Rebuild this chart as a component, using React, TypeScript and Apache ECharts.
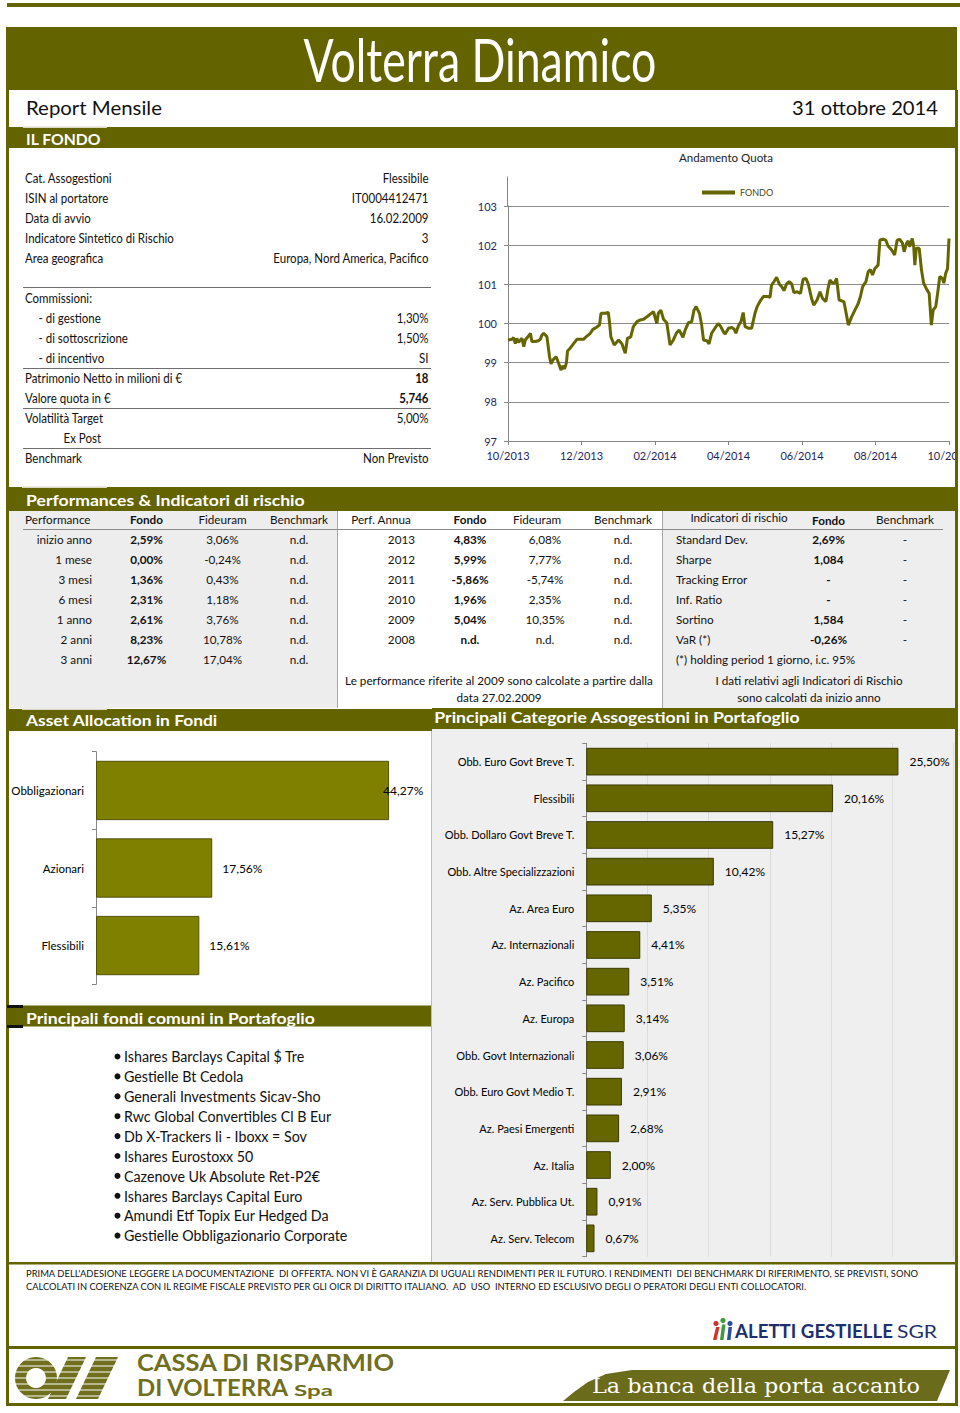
import React, { useEffect, useRef } from "react";
import * as echarts from "echarts";

// ---------------- DATA ----------------
const infoLabels = ["Cat. Assogestioni", "ISIN al portatore", "Data di avvio", "Indicatore Sintetico di Rischio", "Area geografica"];
const infoValues = ["Flessibile", "IT0004412471", "16.02.2009", "3", "Europa, Nord America, Pacifico"];
const feeLabels = ["Commissioni:", "- di gestione", "- di sottoscrizione", "- di incentivo"];
const feeValues = ["", "1,30%", "1,50%", "SI"];
const navLabels = ["Patrimonio Netto in milioni di €", "Valore quota in €"];
const navValues = ["18", "5,746"];
const volLabels = ["Volatilità Target", "Ex Post"];
const volValues = ["5,00%", ""];
const benchLabel = "Benchmark";
const benchValue = "Non Previsto";

const perfHeaders = ["Performance", "Fondo", "Fideuram", "Benchmark"];
const perfPeriods = ["inizio anno", "1 mese", "3 mesi", "6 mesi", "1 anno", "2 anni", "3 anni"];
const perfFondo = ["2,59%", "0,00%", "1,36%", "2,31%", "2,61%", "8,23%", "12,67%"];
const perfFideuram = ["3,06%", "-0,24%", "0,43%", "1,18%", "3,76%", "10,78%", "17,04%"];
const perfBenchmark = ["n.d.", "n.d.", "n.d.", "n.d.", "n.d.", "n.d.", "n.d."];

const annualHeaders = ["Perf. Annua", "Fondo", "Fideuram", "Benchmark"];
const annualYears = ["2013", "2012", "2011", "2010", "2009", "2008"];
const annualFondo = ["4,83%", "5,99%", "-5,86%", "1,96%", "5,04%", "n.d."];
const annualFideuram = ["6,08%", "7,77%", "-5,74%", "2,35%", "10,35%", "n.d."];
const annualBenchmark = ["n.d.", "n.d.", "n.d.", "n.d.", "n.d.", "n.d."];

const riskHeaders = ["Indicatori di rischio", "Fondo", "Benchmark"];
const riskLabels = ["Standard Dev.", "Sharpe", "Tracking Error", "Inf. Ratio", "Sortino", "VaR (*)"];
const riskFondo = ["2,69%", "1,084", "-", "-", "1,584", "-0,26%"];
const riskBenchmark = ["-", "-", "-", "-", "-", "-"];

const quotaTickLabels = ["10/2013", "12/2013", "02/2014", "04/2014", "06/2014", "08/2014", "10/2014"];
// months elapsed since 10/2013
const quotaMonths = [
  0, 0.11, 0.15, 0.2, 0.24, 0.29, 0.34, 0.38, 0.43, 0.47,
  0.56, 0.61, 0.65, 0.74, 0.83, 0.88, 0.92, 0.97, 1.06, 1.13,
  1.17, 1.24, 1.31, 1.38, 1.44, 1.49, 1.54, 1.59, 1.62, 1.69,
  1.78, 1.88, 2.06, 2.15, 2.24, 2.31, 2.4, 2.49, 2.53, 2.64,
  2.73, 2.76, 2.8, 2.89, 3.01, 3.1, 3.19, 3.25, 3.34, 3.41,
  3.51, 3.6, 3.69, 3.78, 3.87, 3.96, 4.05, 4.09, 4.16, 4.23,
  4.32, 4.41, 4.5, 4.59, 4.66, 4.76, 4.82, 4.91, 5.0, 5.06,
  5.12, 5.21, 5.27, 5.32, 5.41, 5.47, 5.54, 5.63, 5.72, 5.79,
  5.86, 5.91, 6.0, 6.09, 6.16, 6.2, 6.27, 6.34, 6.4, 6.45,
  6.54, 6.63, 6.72, 6.78, 6.86, 6.95, 7.07, 7.13, 7.17, 7.24,
  7.31, 7.38, 7.45, 7.51, 7.58, 7.65, 7.72, 7.78, 7.87, 7.96,
  8.03, 8.11, 8.17, 8.26, 8.32, 8.41, 8.49, 8.56, 8.65, 8.71,
  8.76, 8.83, 8.89, 8.94, 9.01, 9.14, 9.21, 9.26, 9.35, 9.44,
  9.53, 9.59, 9.65, 9.74, 9.8, 9.86, 9.92, 9.98, 10.07, 10.12,
  10.21, 10.28, 10.34, 10.43, 10.52, 10.59, 10.66, 10.73, 10.78, 10.84,
  10.89, 10.93, 11.0, 11.04, 11.07, 11.11, 11.19, 11.25, 11.31, 11.4,
  11.46, 11.52, 11.57, 11.64, 11.69, 11.75, 11.82, 11.86, 11.91, 11.96,
  12.0,
];
const quotaValues = [
  99.58, 99.6, 99.64, 99.49, 99.62, 99.52, 99.58, 99.62, 99.41, 99.58,
  99.68, 99.75, 99.54, 99.54, 99.56, 99.6, 99.7, 99.75, 99.66, 99.15,
  98.97, 99.09, 99.15, 98.98, 98.81, 98.92, 98.84, 99.0, 99.3, 99.37,
  99.48, 99.6, 99.6, 99.68, 99.75, 99.85, 99.9, 99.96, 100.26, 100.26,
  100.28, 100.05, 99.66, 99.45, 99.58, 99.48, 99.24, 99.62, 99.66, 99.92,
  100.05, 100.09, 100.11, 100.17, 100.24, 100.3, 100.0, 100.26, 100.34, 100.11,
  100.02, 99.45, 99.58, 99.77, 99.83, 99.65, 99.83, 100.02, 100.05, 100.34,
  100.43, 100.26, 99.96, 99.58, 99.56, 99.48, 99.75, 99.88, 100.0, 99.92,
  99.79, 99.73, 99.88, 99.9, 99.85, 99.75, 99.94, 100.05, 100.28, 99.92,
  99.88, 99.88, 100.26, 100.43, 100.57, 100.69, 100.69, 100.67, 100.98, 101.07,
  101.18, 101.01, 100.94, 100.84, 101.01, 101.07, 101.01, 100.79, 100.81, 100.77,
  101.13, 101.15, 101.01, 100.64, 100.47, 100.6, 100.81, 100.64, 100.56, 100.9,
  101.11, 101.03, 101.04, 101.15, 100.6, 100.56, 100.22, 99.96, 100.17, 100.34,
  100.51, 100.69, 100.94, 101.07, 101.32, 101.38, 101.24, 101.4, 101.49, 102.13,
  102.15, 102.13, 101.98, 101.89, 101.75, 102.13, 102.15, 102.06, 101.83, 102.04,
  102.11, 101.96, 102.17, 101.96, 101.49, 101.92, 101.92, 101.37, 101.03, 100.86,
  100.77, 99.96, 100.34, 100.43, 100.77, 101.2, 101.15, 101.03, 101.28, 101.4,
  102.17,
];

const assetCategories = ["Obbligazionari", "Azionari", "Flessibili"];
const assetValues = [44.27, 17.56, 15.61];

const sectorCategories = [
  "Obb. Euro Govt Breve T.", "Flessibili", "Obb. Dollaro Govt Breve T.", "Obb. Altre Specializzazioni",
  "Az. Area Euro", "Az. Internazionali", "Az. Pacifico", "Az. Europa", "Obb. Govt Internazionali",
  "Obb. Euro Govt Medio T.", "Az. Paesi Emergenti", "Az. Italia", "Az. Serv. Pubblica Ut.", "Az. Serv. Telecom",
];
const sectorValues = [25.5, 20.16, 15.27, 10.42, 5.35, 4.41, 3.51, 3.14, 3.06, 2.91, 2.68, 2.0, 0.91, 0.67];

const funds = [
  "Ishares Barclays Capital $ Tre", "Gestielle Bt Cedola", "Generali Investments Sicav-Sho",
  "Rwc Global Convertibles Cl B Eur", "Db X-Trackers Ii - Iboxx = Sov", "Ishares Eurostoxx 50",
  "Cazenove Uk Absolute Ret-P2€", "Ishares Barclays Capital Euro", "Amundi Etf Topix Eur Hedged Da",
  "Gestielle Obbligazionario Corporate",
];

const disclaimer = [
  "PRIMA DELL'ADESIONE LEGGERE LA DOCUMENTAZIONE  DI OFFERTA. NON VI È GARANZIA DI UGUALI RENDIMENTI PER IL FUTURO. I RENDIMENTI  DEI BENCHMARK DI RIFERIMENTO, SE PREVISTI, SONO",
  "CALCOLATI IN COERENZA CON IL REGIME FISCALE PREVISTO PER GLI OICR DI DIRITTO ITALIANO.  AD  USO  INTERNO ED ESCLUSIVO DEGLI O PERATORI DEGLI ENTI COLLOCATORI.",
];

// ---------------- STYLE ----------------
const OLIVE = "#636300";
const FAM = "Lato";
const pct = (v: number) => v.toFixed(2).replace(".", ",") + "%";

let mctx: CanvasRenderingContext2D | null = null;
function measure(text: string, font: string) {
  if (!mctx) mctx = document.createElement("canvas").getContext("2d");
  mctx!.font = font;
  return mctx!.measureText(text).width || 1;
}

type TO = { size?: number; weight?: string; fam?: string; align?: string; color?: string; w?: number; sx?: number; z?: number };
function T(text: string, x: number, y: number, o: TO = {}) {
  const size = o.size ?? 12;
  const fam = o.fam ?? FAM;
  const font = `${o.weight ?? "normal"} ${size}px ${fam}`;
  const sx = o.w ? o.w / measure(text, font) : o.sx ?? 1;
  const align = o.align ?? "left";
  return {
    type: "text", x, y, scaleX: sx, z: o.z ?? 10, silent: true,
    style: { text, font, fill: o.color ?? "#111", align, textAlign: align, verticalAlign: "middle", textVerticalAlign: "middle" },
  };
}
const R = (x: number, y: number, w: number, h: number, fill: string, z = 5) => ({ type: "rect", z, silent: true, shape: { x, y, width: w, height: h }, style: { fill } });
const L = (x1: number, y1: number, x2: number, y2: number, stroke: string, lw = 1, z = 6) => ({ type: "line", z, silent: true, shape: { x1, y1, x2, y2 }, style: { stroke, lineWidth: lw } });

function buildOption() {
  const els: any[] = [];
  // frame
  els.push(R(7, 3, 953, 4, OLIVE, 20));
  els.push(R(6, 27, 951, 63, OLIVE, 20));
  els.push(R(6, 127, 952, 21, OLIVE, 20));
  els.push(R(23, 126.5, 84, 1.5, "#d9d9c4", 21));
  els.push(R(6, 90, 3, 1316, OLIVE, 20));
  els.push(R(955, 90, 3, 1316, OLIVE, 20));
  els.push(R(958, 130, 12, 360, "#ffffff", 19));

  els.push(T("Volterra Dinamico", 480, 58.5, { size: 60, color: "#fff", align: "center", w: 353, z: 22 }));
  els.push(T("Report Mensile", 26, 107.5, { size: 19, w: 136 }));
  els.push(T("31 ottobre 2014", 938, 107.5, { size: 19, w: 146, align: "right" }));
  els.push(T("IL FONDO", 26, 138, { size: 16, weight: "bold", color: "#fff", w: 75, z: 22 }));

  // info panel
  const sxL = 149 / measure("Indicatore Sintetico di Rischio", `normal 12.5px ${FAM}`);
  const lp = (label: string, value: string, y: number, indent = 25, bold = false) => {
    els.push(T(label, indent, y, { size: 12.5, sx: sxL }));
    if (value) els.push(T(value, 428.5, y, { size: 12.5, sx: sxL, align: "right", weight: bold ? "bold" : "normal" }));
  };
  infoLabels.forEach((l, i) => lp(l, infoValues[i], 178 + 20 * i));
  els.push(L(23, 287.5, 431, 287.5, "#6e6e6e"));
  feeLabels.forEach((l, i) => lp(l, feeValues[i], 298 + 20 * i, i === 0 ? 25 : 38.5));
  els.push(L(23, 368.5, 431, 368.5, "#6e6e6e"));
  navLabels.forEach((l, i) => lp(l, navValues[i], 378.5 + 20 * i, 25, true));
  els.push(L(23, 408.5, 431, 408.5, "#6e6e6e"));
  volLabels.forEach((l, i) => lp(l, volValues[i], 418.5 + 20 * i, i === 0 ? 25 : 63.5));
  els.push(L(23, 448.5, 431, 448.5, "#6e6e6e"));
  lp(benchLabel, benchValue, 458.5);

  // line chart title + axis extension
  els.push(T("Andamento Quota", 726, 158, { size: 11.5, color: "#222", w: 94, align: "center" }));
  els.push(L(507.5, 176.5, 507.5, 206, "#868686", 1, 6));

  // performance section
  els.push(R(6, 487, 952, 24, OLIVE, 20));
  els.push(R(22, 486.5, 85, 1.5, "#d9d9c4", 21));
  els.push(T("Performances & Indicatori di rischio", 26, 499.5, { size: 16, weight: "bold", color: "#fff", w: 279, z: 22 }));
  els.push(R(9, 511, 328, 197, "#ededed", -10));
  els.push(R(662, 511, 293, 197, "#eeeeee", -10));
  els.push(L(337.5, 511, 337.5, 708, "#a8a8a8"));
  els.push(L(662.5, 511, 662.5, 708, "#a8a8a8"));
  els.push(L(23, 529.5, 943, 529.5, "#8a8a8a"));
  const sxP = 308 / measure("Le performance riferite al 2009 sono calcolate a partire dalla", `normal 12px ${FAM}`);
  const pt = (s: string, x: number, y: number, align = "center", bold = false) =>
    els.push(T(s, x, y, { size: 12, sx: sxP, align, weight: bold ? "bold" : "normal" }));
  pt(perfHeaders[0], 25, 519.5, "left");
  pt(perfHeaders[1], 146.5, 519.5, "center", true);
  pt(perfHeaders[2], 222.5, 519.5);
  pt(perfHeaders[3], 299, 519.5);
  perfPeriods.forEach((p, i) => {
    const y = 539.5 + 20 * i;
    pt(p, 92, y, "right");
    pt(perfFondo[i], 146.5, y, "center", true);
    pt(perfFideuram[i], 222.5, y);
    pt(perfBenchmark[i], 299, y);
  });
  pt(annualHeaders[0], 381, 519.5);
  pt(annualHeaders[1], 470, 519.5, "center", true);
  pt(annualHeaders[2], 537, 519.5);
  pt(annualHeaders[3], 623, 519.5);
  annualYears.forEach((yv, i) => {
    const y = 539.5 + 20 * i;
    pt(yv, 415, y, "right");
    pt(annualFondo[i], 470, y, "center", true);
    pt(annualFideuram[i], 545, y);
    pt(annualBenchmark[i], 623, y);
  });
  pt(riskHeaders[0], 739, 517.5);
  pt(riskHeaders[1], 828.5, 520, "center", true);
  pt(riskHeaders[2], 905, 519.5);
  riskLabels.forEach((r, i) => {
    const y = 539.5 + 20 * i;
    pt(r, 676, y, "left");
    pt(riskFondo[i], 828.5, y, "center", true);
    pt(riskBenchmark[i], 905, y);
  });
  pt("(*) holding period 1 giorno, i.c. 95%", 676, 659.5, "left");
  pt("Le performance riferite al 2009 sono calcolate a partire dalla", 499, 680.5);
  pt("data 27.02.2009", 499, 697.5);
  pt("I dati relativi agli Indicatori di Rischio", 809, 680.5);
  pt("sono calcolati da inizio anno", 809, 697.5);

  // allocation headers
  els.push(R(6, 709, 426, 22, OLIVE, 20));
  els.push(R(22, 708.5, 85, 1.5, "#d9d9c4", 21));
  els.push(R(432, 708, 526, 21, OLIVE, 20));
  els.push(T("Asset Allocation in Fondi", 26, 720, { size: 16, weight: "bold", color: "#fff", w: 192, z: 22 }));
  els.push(T("Principali Categorie Assogestioni in Portafoglio", 617, 716.5, { size: 16, weight: "bold", color: "#fff", w: 366, align: "center", z: 22 }));
  els.push(R(432, 729, 523, 533, "#efefef", -10));
  els.push(L(431.5, 731, 431.5, 1262, "#bdbdbd"));

  // funds list
  els.push(R(7, 1005.5, 424, 21, OLIVE, 20));
  els.push(R(7, 1005, 16, 3, "#111", 21));
  els.push(R(7, 1025, 16, 3, "#111", 21));
  els.push(T("Principali fondi comuni in Portafoglio", 26, 1017.5, { size: 16, weight: "bold", color: "#fff", w: 289, z: 22 }));
  const sxF = 181 / measure(funds[0], `normal 15.5px ${FAM}`);
  funds.forEach((f, i) => {
    const y = 1056 + 19.9 * i;
    els.push({ type: "circle", z: 10, silent: true, shape: { cx: 117.5, cy: y + 0.5, r: 3 }, style: { fill: "#111" } });
    els.push(T(f, 124, y, { size: 15.5, sx: sxF }));
  });

  // footer
  els.push(R(6, 1262, 952, 2.5, OLIVE, 20));
  els.push(T(disclaimer[0], 26, 1273, { size: 9.5, w: 895 }));
  els.push(T(disclaimer[1], 26, 1286, { size: 9.5, w: 782 }));
  // Aletti logo
  els.push({ type: "circle", z: 10, silent: true, shape: { cx: 716, cy: 1323.5, r: 2.6 }, style: { fill: "#d2322d" } });
  els.push({ type: "circle", z: 10, silent: true, shape: { cx: 723, cy: 1320.5, r: 2.6 }, style: { fill: "#3d9b3a" } });
  els.push({ type: "circle", z: 10, silent: true, shape: { cx: 730, cy: 1323.5, r: 2.6 }, style: { fill: "#2b4f9e" } });
  els.push({ type: "polygon", z: 10, silent: true, shape: { points: [[713, 1340], [716, 1327], [719.5, 1327], [716.5, 1340]] }, style: { fill: "#d2322d" } });
  els.push({ type: "polygon", z: 10, silent: true, shape: { points: [[720, 1340], [722, 1324.5], [725.5, 1324.5], [723.5, 1340]] }, style: { fill: "#3d9b3a" } });
  els.push({ type: "polygon", z: 10, silent: true, shape: { points: [[727, 1340], [728.5, 1327], [732, 1327], [730.5, 1340]] }, style: { fill: "#2b4f9e" } });
  els.push(T("ALETTI GESTIELLE", 735, 1331, { size: 18, weight: "bold", color: "#1d2f6f", w: 158 }));
  els.push(T("SGR", 897, 1331.5, { size: 18, color: "#1d2f6f", w: 40 }));
  els.push(R(6, 1346, 952, 3, OLIVE, 20));
  // Cassa di Risparmio logo
  const LOGO = "#6f6f1e";
  els.push({ type: "ring", z: 10, silent: true, shape: { cx: 36, cy: 1378, r: 21, r0: 10 }, style: { fill: LOGO } });
  els.push({ type: "polygon", z: 10, silent: true, shape: { points: [[48, 1399], [68, 1357], [86, 1357], [66, 1399]] }, style: { fill: LOGO } });
  els.push({ type: "polygon", z: 10, silent: true, shape: { points: [[76, 1399], [96, 1357], [118, 1357], [98, 1399]] }, style: { fill: LOGO } });
  for (let k = 0; k < 7; k++) {
    const yy = 1360 + k * 6;
    els.push(L(14, yy, 118, yy, "#ffffff", 1.2, 11));
  }
  els.push(T("CASSA DI RISPARMIO", 137, 1362, { size: 22, weight: "bold", color: LOGO, w: 258 }));
  els.push(T("DI VOLTERRA", 137, 1387, { size: 22, weight: "bold", color: LOGO, w: 152 }));
  els.push(T("Spa", 294, 1390, { size: 15, weight: "bold", color: LOGO, w: 39 }));
  els.push({
    type: "polygon", z: 10, silent: true,
    shape: { points: [[563, 1401], [574, 1392], [588, 1382], [606, 1374], [632, 1370], [950, 1370], [937, 1401]] },
    style: { fill: "#6b6b1c" },
  });
  els.push(T("La banca della porta accanto", 592, 1386, { size: 20, fam: "DejaVu Serif", color: "#fff", w: 328, z: 12 }));
  els.push(R(6, 1403, 952, 3, OLIVE, 20));

  const axisGray = "#868686";
  const navy = "#1f1f5c";
  return {
    animation: false,
    textStyle: { fontFamily: FAM },
    legend: {
      data: ["FONDO"], left: 702, top: 188, padding: 0, itemWidth: 33, itemHeight: 4, icon: "rect",
      textStyle: { fontSize: 9, color: "#4a4a10", fontFamily: FAM },
    },
    grid: [
      { left: 508, top: 206, width: 441, height: 235, containLabel: false, outerBoundsMode: "none" },
      { left: 96, top: 751.7, width: 331, height: 232.6, containLabel: false, outerBoundsMode: "none" },
      { left: 586.3, top: 743.3, width: 367.2, height: 513.4, containLabel: false, outerBoundsMode: "none" },
    ],
    xAxis: [
      {
        gridIndex: 0, type: "value", min: 0, max: 12, interval: 2,
        axisLine: { lineStyle: { color: axisGray } },
        axisTick: { show: true, length: 4, lineStyle: { color: axisGray } },
        axisLabel: { color: navy, fontSize: 11, margin: 9, fontFamily: FAM, formatter: (v: number) => quotaTickLabels[Math.round(v / 2)] ?? "" },
        splitLine: { show: false },
      },
      { gridIndex: 1, type: "value", min: 0, max: 50, show: false },
      {
        gridIndex: 2, type: "value", min: 0, max: 30, interval: 5,
        axisLine: { show: false }, axisTick: { show: false }, axisLabel: { show: false },
        splitLine: { show: true, lineStyle: { color: "#dcdcdc" } },
      },
    ],
    yAxis: [
      {
        gridIndex: 0, type: "value", min: 97, max: 103, interval: 1,
        axisLine: { show: true, lineStyle: { color: axisGray } },
        axisTick: { show: true, length: 4, lineStyle: { color: axisGray } },
        axisLabel: { color: navy, fontSize: 11, margin: 11, fontFamily: FAM },
        splitLine: { lineStyle: { color: "#8c8c8c" } },
      },
      {
        gridIndex: 1, type: "category", data: assetCategories, inverse: true,
        axisLine: { lineStyle: { color: axisGray } },
        axisTick: { show: true, length: 4, lineStyle: { color: axisGray } },
        axisLabel: { color: "#000", fontSize: 11.5, margin: 12, fontFamily: FAM },
      },
      {
        gridIndex: 2, type: "category", data: sectorCategories, inverse: true,
        axisLine: { lineStyle: { color: axisGray } },
        axisTick: { show: true, length: 4, lineStyle: { color: axisGray } },
        axisLabel: { color: "#000", fontSize: 11, margin: 12, fontFamily: FAM },
      },
    ],
    series: [
      {
        name: "FONDO", type: "line", xAxisIndex: 0, yAxisIndex: 0, z: 3,
        data: quotaMonths.map((m, i) => [m, quotaValues[i]]),
        showSymbol: false, symbol: "none",
        lineStyle: { color: "#666600", width: 3 }, itemStyle: { color: "#666600" },
      },
      {
        type: "bar", xAxisIndex: 1, yAxisIndex: 1, barCategoryGap: "23.5%", z: 3,
        data: assetValues.map((v, i) => (i === 0 ? { value: v, label: { offset: [-16, 0] } } : v)),
        itemStyle: { color: "#808000", borderColor: "#525200", borderWidth: 1 },
        label: { show: true, position: "right", distance: 10, color: "#000", fontSize: 12, fontFamily: FAM, formatter: (p: any) => pct(p.value) },
      },
      {
        type: "bar", xAxisIndex: 2, yAxisIndex: 2, barCategoryGap: "24.5%", z: 3,
        data: sectorValues,
        itemStyle: { color: "#666600", borderColor: "#3a3a00", borderWidth: 1 },
        label: { show: true, position: "right", distance: 11, color: "#000", fontSize: 12, fontFamily: FAM, formatter: (p: any) => pct(p.value) },
      },
    ],
    graphic: { elements: els },
  };
}

export default function App() {
  const ref = useRef<HTMLDivElement>(null);
  useEffect(() => {
    document.body.style.margin = "0";
    const chart = echarts.init(ref.current!, null, { renderer: "svg" });
    chart.setOption(buildOption() as any);
    return () => chart.dispose();
  }, []);
  return <div ref={ref} style={{ width: 960, height: 1413, background: "#fff" }} />;
}
